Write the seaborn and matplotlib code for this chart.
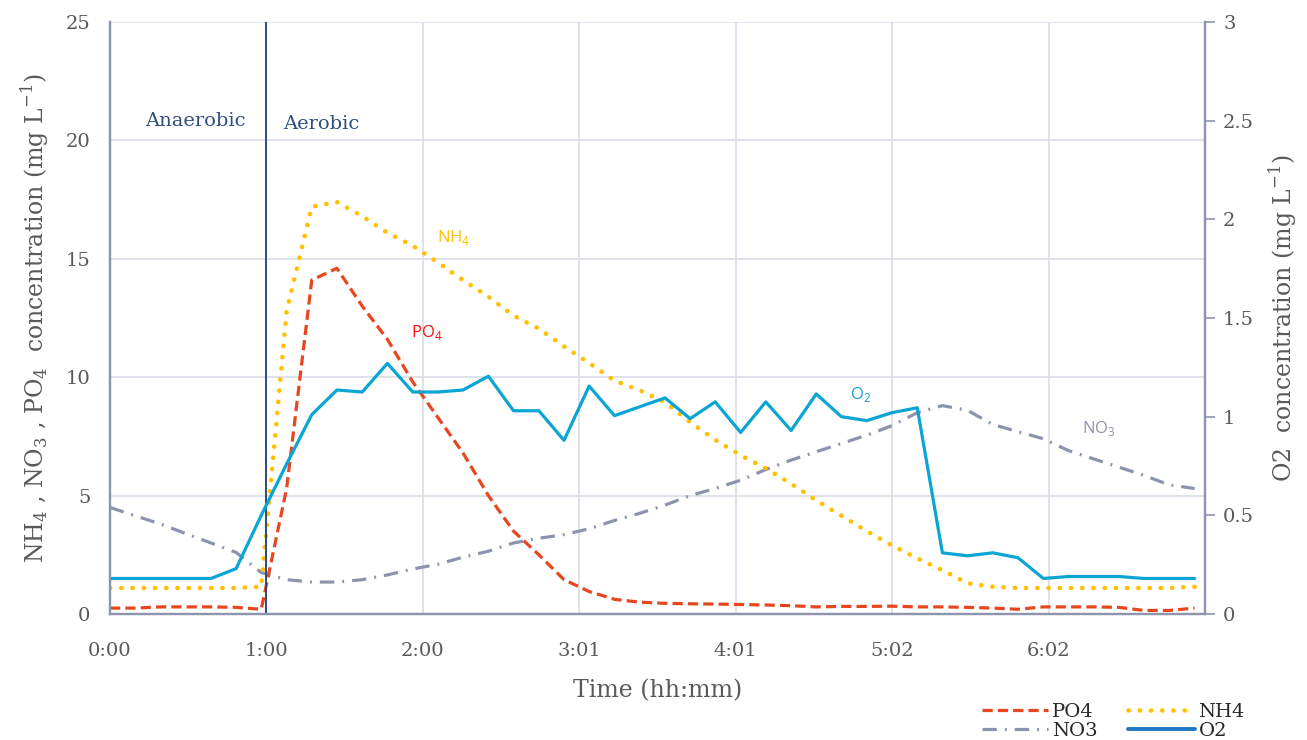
import matplotlib
matplotlib.use("Agg")
import matplotlib.pyplot as plt
from matplotlib.lines import Line2D
import pandas as pd
import seaborn as sns

# sample times (minutes from start)
time_min = [0.0, 9.7, 19.5, 29.2, 39.0, 48.7, 58.4, 68.2, 77.9, 87.6,
            97.4, 107.1, 116.9, 126.6, 136.3, 146.1, 155.8, 165.6, 175.3, 185.0,
            194.8, 204.5, 214.3, 224.0, 233.7, 243.5, 253.2, 263.0, 272.7, 282.4,
            292.2, 301.9, 311.7, 321.4, 331.1, 340.9, 350.6, 360.4, 370.1, 379.8,
            389.6, 399.3, 409.1, 418.8]

po4 = [0.25, 0.25, 0.3, 0.3, 0.3, 0.28, 0.2, 5.3, 14.1, 14.6,
       13.0, 11.6, 9.8, 8.3, 6.8, 5.0, 3.5, 2.5, 1.45, 0.95,
       0.62, 0.5, 0.45, 0.43, 0.42, 0.4, 0.38, 0.35, 0.3, 0.32,
       0.32, 0.33, 0.3, 0.3, 0.28, 0.25, 0.2, 0.3, 0.3, 0.3,
       0.28, 0.15, 0.15, 0.25]

nh4 = [1.1, 1.1, 1.1, 1.1, 1.1, 1.1, 1.15, 12.8, 17.2, 17.4,
       16.8, 16.1, 15.55, 14.85, 14.1, 13.4, 12.6, 12.05, 11.3, 10.6,
       9.85, 9.45, 8.95, 8.1, 7.35, 6.7, 6.15, 5.5, 4.8, 4.15,
       3.5, 2.9, 2.35, 1.85, 1.3, 1.15, 1.1, 1.1, 1.1, 1.1,
       1.1, 1.1, 1.1, 1.15]

no3 = [4.5, 4.15, 3.8, 3.4, 3.0, 2.6, 1.75, 1.45, 1.35, 1.35,
       1.45, 1.65, 1.9, 2.1, 2.4, 2.65, 3.0, 3.2, 3.35, 3.6,
       3.95, 4.25, 4.6, 5.0, 5.3, 5.65, 6.1, 6.5, 6.85, 7.2,
       7.55, 7.95, 8.5, 8.8, 8.6, 8.0, 7.7, 7.4, 6.9, 6.55,
       6.2, 5.85, 5.45, 5.3]

o2 = [0.18, 0.18, 0.18, 0.18, 0.18, 0.23, 0.5, 0.76, 1.01, 1.135,
      1.125, 1.27, 1.125, 1.125, 1.135, 1.205, 1.03, 1.03, 0.88, 1.155,
      1.005, 1.05, 1.095, 0.99, 1.075, 0.92, 1.075, 0.93, 1.115, 1.0,
      0.98, 1.02, 1.045, 0.31, 0.295, 0.31, 0.285, 0.18, 0.19, 0.19,
      0.19, 0.18, 0.18, 0.18]

tick_labels = ["0:00", "1:00", "2:00", "3:01", "4:01", "5:02", "6:02"]
tick_step = 60.4      # minutes between major ticks
x_max = 7 * tick_step
aerobic_start = tick_step

df = pd.DataFrame({"time": time_min, "PO4": po4, "NH4": nh4, "NO3": no3, "O2": o2})

sns.set_theme(style="white")
plt.rcParams["font.family"] = ["DejaVu Serif"]

c_po4 = "#e8461e"
c_nh4 = "#ffc000"
c_no3 = "#8c94ad"
c_o2 = "#0aa5d4"
grey = "#595959"
spine_c = "#8c95ad"

fig = plt.figure(figsize=(13.07, 7.4), dpi=100)
ax = fig.add_axes([110 / 1307, 1 - 614 / 740, 1095 / 1307, 592 / 740])
ax2 = ax.twinx()

lw = 2.3
dots = (0, (0.05, 2.4))
sns.lineplot(data=df, x="time", y="NO3", ax=ax, color=c_no3, linewidth=lw)
ax.lines[-1].set_linestyle((0, (4.5, 2.5, 0.6, 2.5)))
sns.lineplot(data=df, x="time", y="PO4", ax=ax, color=c_po4, linewidth=lw)
ax.lines[-1].set_linestyle((0, (3.2, 1.6)))
sns.lineplot(data=df, x="time", y="NH4", ax=ax, color=c_nh4, linewidth=3.3)
ax.lines[-1].set_linestyle(dots)
ax.lines[-1].set_dash_capstyle("round")
sns.lineplot(data=df, x="time", y="O2", ax=ax2, color=c_o2, linewidth=lw)

ax.axvline(aerobic_start, color="#2c4a7c", linewidth=1.4, zorder=3)

ax.set_xlim(0, x_max)
ax.set_ylim(0, 25)
ax2.set_ylim(0, 3)
ax.set_xticks([i * tick_step for i in range(len(tick_labels))])
ax.set_xticklabels(tick_labels)
ax.set_yticks(range(0, 26, 5))
ax2.set_yticks([0, 0.5, 1, 1.5, 2, 2.5, 3])
ax2.set_yticklabels(["0", "0.5", "1", "1.5", "2", "2.5", "3"])

ax.grid(True, color="#d9dde6", linewidth=1.2)
ax.set_axisbelow(True)
for a in (ax, ax2):
    a.spines["top"].set_visible(False)
    for s in ("left", "bottom", "right"):
        a.spines[s].set_color(spine_c)
        a.spines[s].set_linewidth(1.6)

ax.tick_params(axis="both", length=0, labelsize=14, colors=grey)
ax.tick_params(axis="y", pad=14)
ax.tick_params(axis="x", pad=20)
ax2.tick_params(axis="y", length=7, width=1.2, color=spine_c, labelsize=14,
                labelcolor=grey, pad=6, direction="out")

ax.set_xlabel("Time (hh:mm)", fontsize=17, color=grey, labelpad=14)
ax.set_ylabel(r"NH$_\mathregular{4}$ , NO$_\mathregular{3}$ , PO$_\mathregular{4}$  concentration (mg L$^\mathregular{-1}$)",
              fontsize=17, color=grey, labelpad=10)
ax2.set_ylabel(r"O2  concentration (mg L$^\mathregular{-1}$)", fontsize=17, color=grey, labelpad=10)

# phase labels
ax.text(13.5, 20.8, "Anaerobic", color="#2f4f7f", fontsize=14, va="center", ha="left")
ax.text(66.8, 20.7, "Aerobic", color="#2f4f7f", fontsize=14, va="center", ha="left")

# series labels
lab_font = ["Open Sans", "DejaVu Sans"]
ax.text(126.2, 15.9, r"NH$_\mathregular{4}$", color=c_nh4, fontsize=12, family=lab_font, va="center")
ax.text(116.2, 11.9, r"PO$_\mathregular{4}$", color="#ff1010", fontsize=12, family=lab_font, va="center")
ax.text(285.6, 9.25, r"O$_\mathregular{2}$", color=c_o2, fontsize=12, family=lab_font, va="center")
ax.text(375.5, 7.85, r"NO$_\mathregular{3}$", color=c_no3, fontsize=12, family=lab_font, va="center")

handles = [
    Line2D([], [], color=c_po4, linewidth=2.3, linestyle=(0, (3.2, 1.6))),
    Line2D([], [], color=c_no3, linewidth=2.3, linestyle=(0, (4.5, 2.5, 0.6, 2.5))),
    Line2D([], [], color=c_nh4, linewidth=3.3, linestyle=dots, dash_capstyle="round"),
    Line2D([], [], color="#1f78c1", linewidth=2.8),
]
fig.legend(handles, ["PO4", "NO3", "NH4", "O2"], ncol=2, loc="upper left",
           bbox_to_anchor=(972 / 1307, 1 - 693 / 740), frameon=False, fontsize=14,
           handlelength=3.4, handletextpad=0.2, columnspacing=1.6, labelspacing=0.05,
           borderpad=0)

fig.savefig("out.png", dpi=100)
